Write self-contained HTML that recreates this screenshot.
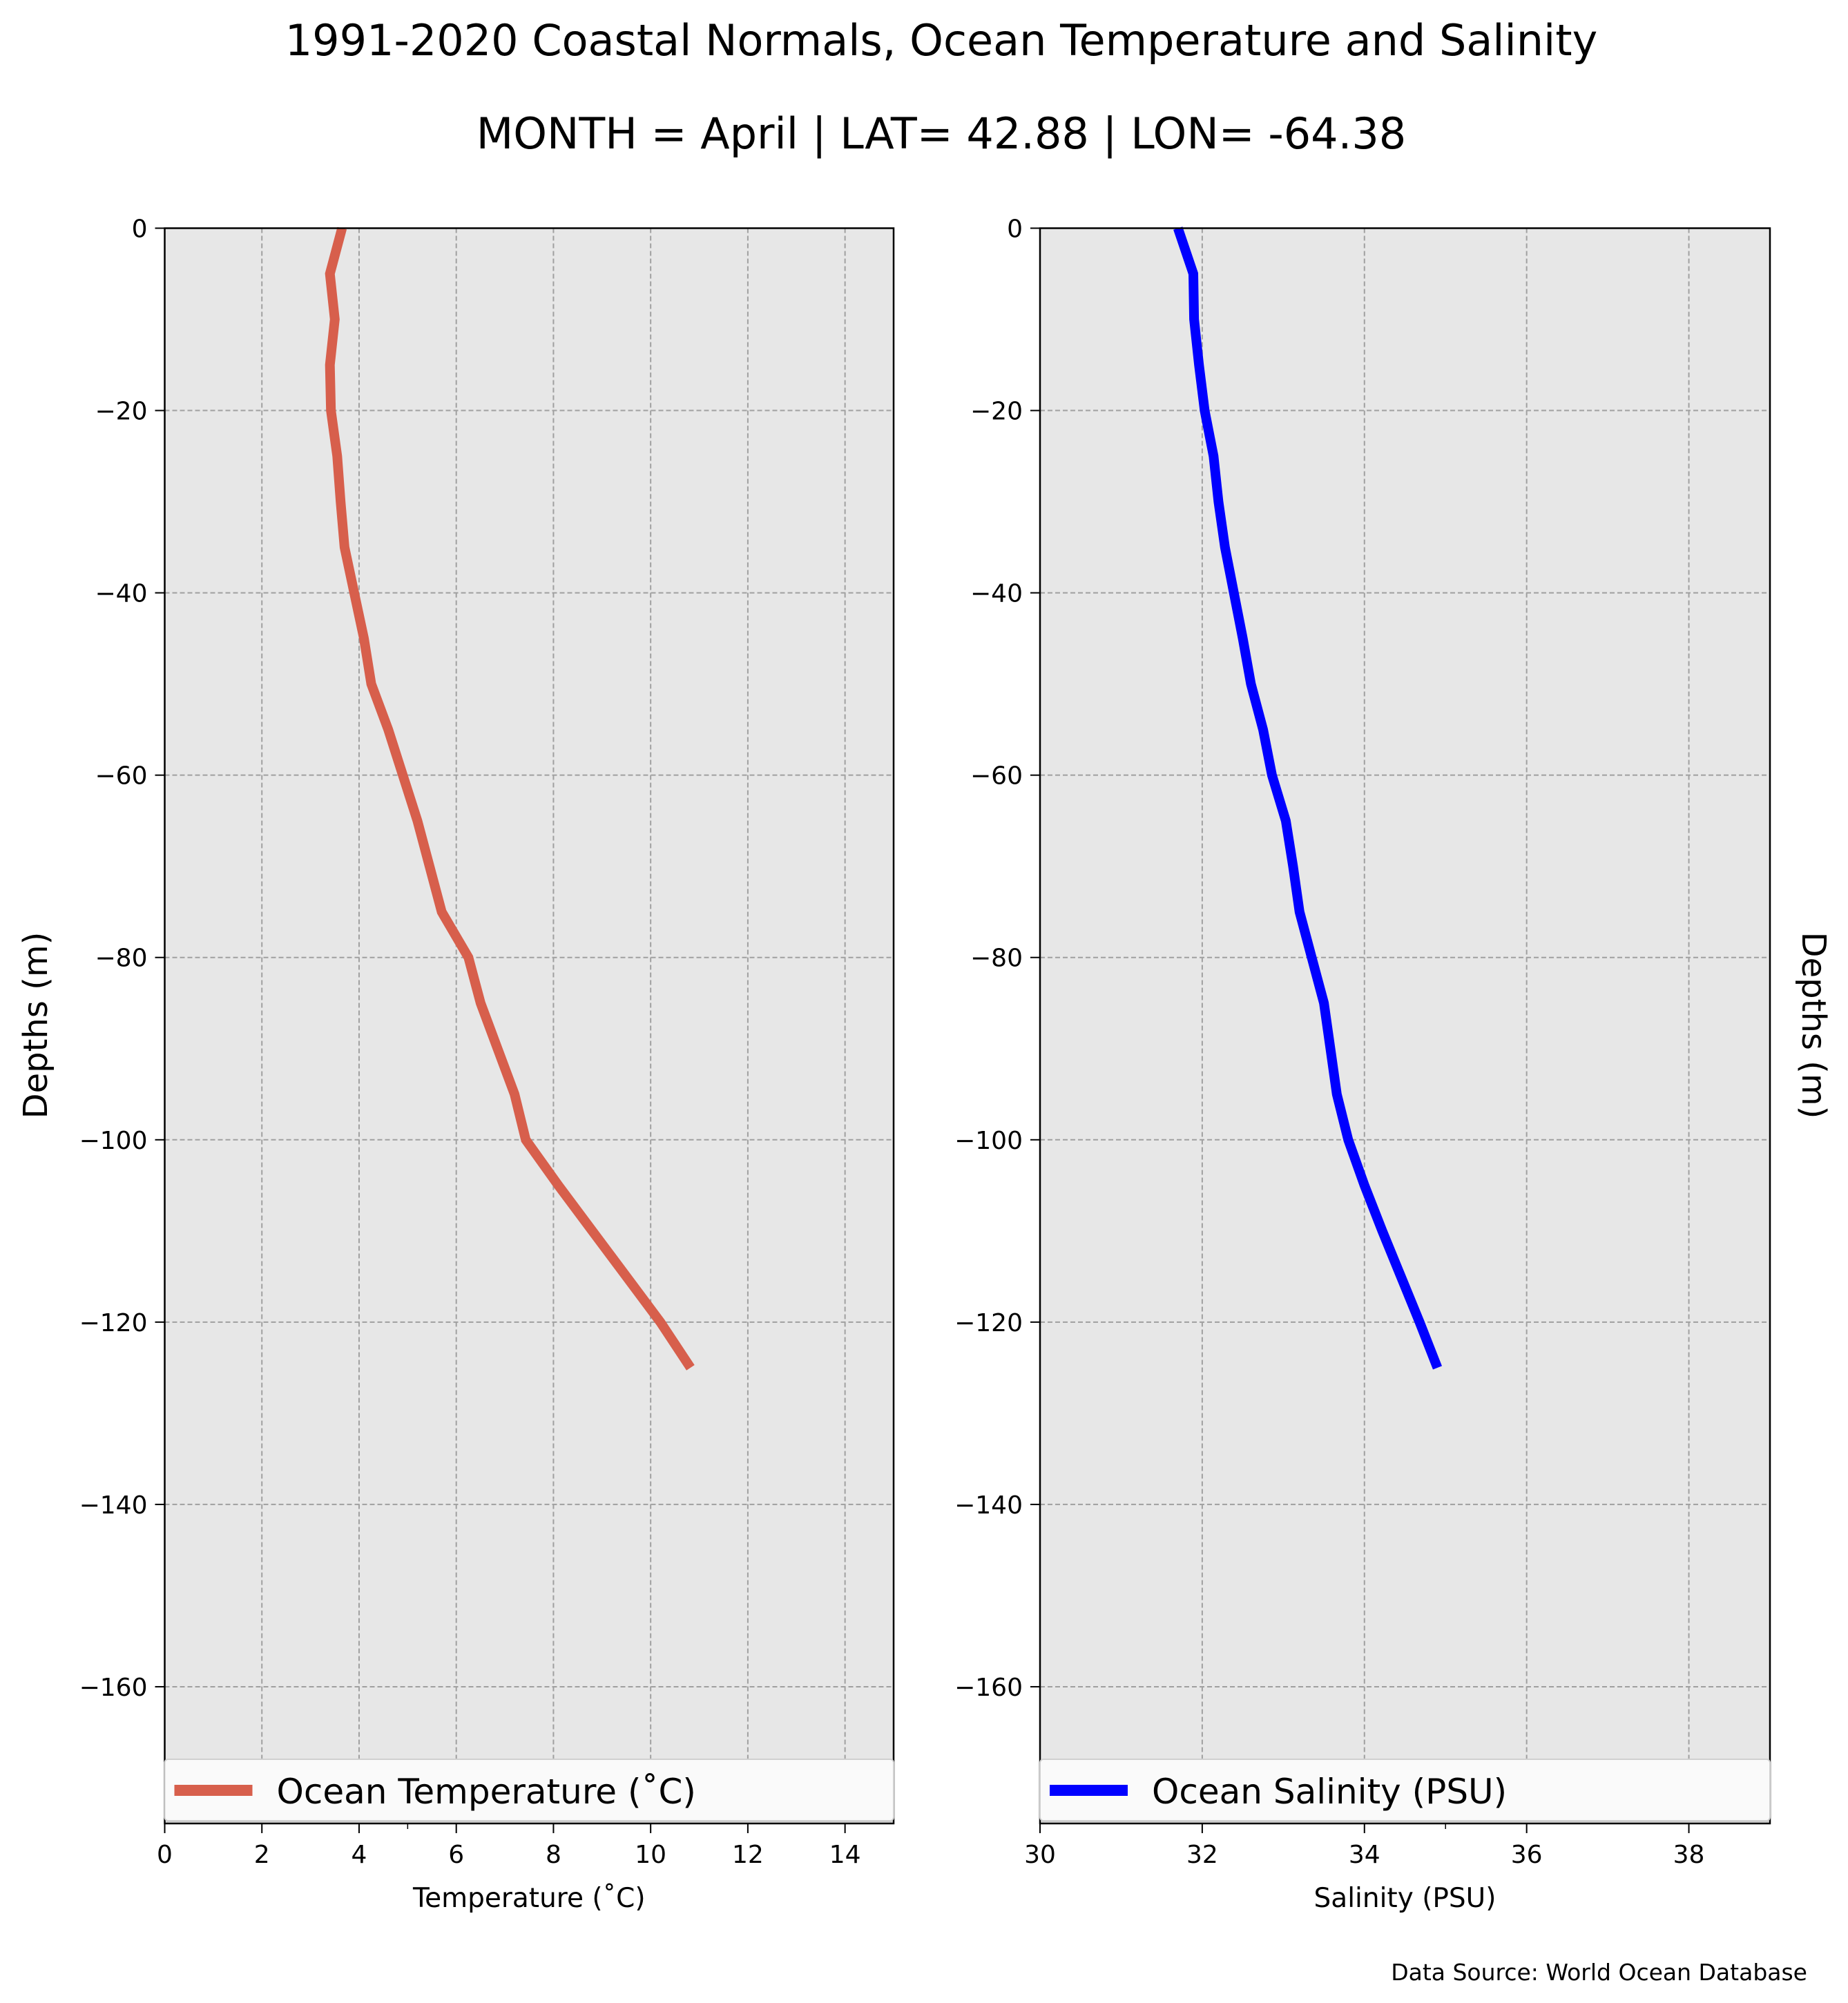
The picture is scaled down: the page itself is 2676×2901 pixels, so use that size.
<!DOCTYPE html>
<html><head><meta charset="utf-8"><style>
html,body{margin:0;padding:0;background:#fff;}
svg{display:block;font-family:"DejaVu Sans","Liberation Sans",sans-serif;}
</style></head><body>
<svg id="chart" width="2676" height="2901" viewBox="0 0 2676 2901" xmlns="http://www.w3.org/2000/svg">
<text x="1363" y="80" font-size="62" text-anchor="middle">1991-2020 Coastal Normals, Ocean Temperature and Salinity</text>
<text x="1363" y="215" font-size="62" text-anchor="middle">MONTH = April | LAT= 42.88 | LON= -64.38</text>
<text x="2617" y="2868" font-size="33" text-anchor="end">Data Source: World Ocean Database</text>
<g id="left"></g>
<g id="right"></g>
</svg>
<script>
const depths = [0,-5,-10,-15,-20,-25,-30,-35,-40,-45,-50,-55,-60,-65,-70,-75,-80,-85,-90,-95,-100,-105,-110,-115,-120,-125];
const temperature = [3.65,3.4,3.5,3.4,3.42,3.55,3.62,3.7,3.9,4.1,4.25,4.6,4.9,5.2,5.45,5.7,6.25,6.5,6.85,7.2,7.43,8.1,8.8,9.5,10.2,10.82];
const salinity = [31.7,31.89,31.9,31.96,32.03,32.14,32.2,32.28,32.39,32.5,32.6,32.75,32.86,33.03,33.12,33.2,33.35,33.5,33.58,33.66,33.8,34.0,34.22,34.45,34.68,34.9];
const depthTicks = [0,-20,-40,-60,-80,-100,-120,-140,-160];
const tempTicks = [0,2,4,6,8,10,12,14];
const salTicks = [30,32,34,36,38];

const NS='http://www.w3.org/2000/svg';
function mk(parent,tag,attrs,text){const e=document.createElementNS(NS,tag);for(const k in attrs)e.setAttribute(k,attrs[k]);if(text!==undefined)e.textContent=text;parent.appendChild(e);return e;}
const T=330.5,B=2641;
const yScale=d=>T+(0-d)/175*(B-T);

function panel(g,L,R,xmin,xmax,xTicks,minorTick,vals,color,legendText,xlabel,ylabelSide){
  const xs=v=>L+(v-xmin)/(xmax-xmin)*(R-L);
  const bg=mk(g,'rect',{x:L,y:T,width:R-L,height:B-T,fill:'#e7e7e7'});
  
  xTicks.forEach(t=>{
    const l=mk(g,'line',{x1:xs(t),x2:xs(t),y1:T,y2:B,stroke:'#a0a0a0','stroke-width':2,'stroke-dasharray':'7,4'});
    
    const tk=mk(g,'line',{x1:xs(t),x2:xs(t),y1:B,y2:B+14,stroke:'#000','stroke-width':2});
    
    const lb=mk(g,'text',{x:xs(t),y:2698,'font-size':36,'text-anchor':'middle'},String(t));
    
  });
  const mt=mk(g,'line',{x1:xs(minorTick),x2:xs(minorTick),y1:B,y2:B+8,stroke:'#000','stroke-width':1.5});
  
  depthTicks.forEach(d=>{
    const l=mk(g,'line',{x1:L,x2:R,y1:yScale(d),y2:yScale(d),stroke:'#a0a0a0','stroke-width':2,'stroke-dasharray':'7,4'});
    
    const tk=mk(g,'line',{x1:L-14,x2:L,y1:yScale(d),y2:yScale(d),stroke:'#000','stroke-width':2});
    
    const lb=mk(g,'text',{x:L-25,y:yScale(d)+13,'font-size':36,'text-anchor':'end'},d===0?'0':'\u2212'+(-d));
    
  });
  const pts=vals.map((v,i)=>xs(v).toFixed(1)+','+yScale(depths[i]).toFixed(1)).join(' ');
  const pl=mk(g,'polyline',{points:pts,fill:'none',stroke:color,'stroke-width':14,'stroke-linejoin':'miter'});
  
  const fr=mk(g,'rect',{x:L,y:T,width:R-L,height:B-T,fill:'none',stroke:'#000','stroke-width':2.5});
  
  const lg=mk(g,'g',{});
  
  mk(lg,'rect',{x:L+1,y:2551,width:R-L-2,height:89,rx:5,fill:'#b0b0b0',opacity:0.6});
  mk(lg,'rect',{x:L,y:2548,width:R-L,height:89,rx:5,fill:'#fafafa',stroke:'#d0d0d0','stroke-width':2});
  const sw=mk(lg,'line',{x1:L+14,x2:L+127,y1:2593,y2:2593,stroke:color,'stroke-width':16});
  
  const lt=mk(lg,'text',{x:L+162,y:2612,'font-size':50},legendText);
  
  const xl=mk(g,'text',{x:(L+R)/2,y:2762,'font-size':39,'text-anchor':'middle'},xlabel);
  
  let yl;
  if(ylabelSide==='left'){yl=mk(g,'text',{x:0,y:0,'font-size':48,'text-anchor':'middle',transform:'translate(68,1485) rotate(-90)'},'Depths (m)');}
  else{yl=mk(g,'text',{x:0,y:0,'font-size':48,'text-anchor':'middle',transform:'translate(2610,1485) rotate(90)'},'Depths (m)');}
  
}
panel(document.getElementById('left'),238.5,1294,0,15,tempTicks,5,temperature,'#d75f4c','Ocean Temperature (\u02daC)','Temperature (\u02daC)','left');
panel(document.getElementById('right'),1506,2563,30,39,salTicks,35,salinity,'#0000ff','Ocean Salinity (PSU)','Salinity (PSU)','right');
</script>
</body></html>
